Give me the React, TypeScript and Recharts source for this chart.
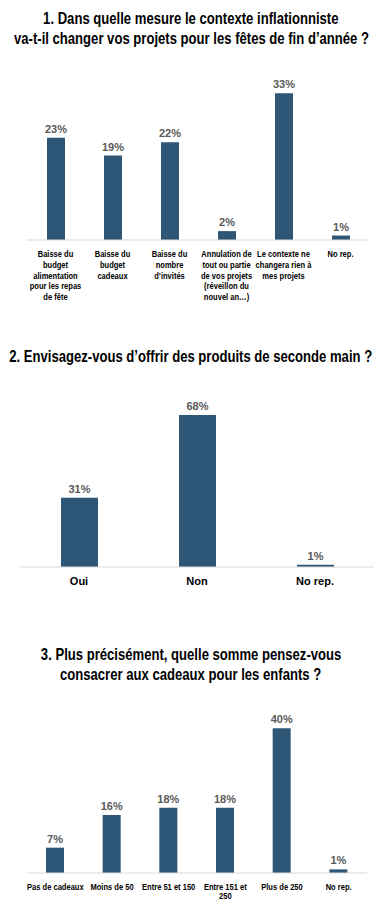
import React from 'react'
import { BarChart, Bar, XAxis, YAxis, LabelList } from 'recharts'

const q1Labels = [
    'Baisse du\nbudget\nalimentation\npour les repas\nde fête',
    'Baisse du\nbudget\ncadeaux',
    'Baisse du\nnombre\nd’invités',
    'Annulation de\ntout ou partie\nde vos projets\n(réveillon du\nnouvel an…)',
    'Le contexte ne\nchangera rien à\nmes projets',
    'No rep.',
]
const q1Values = [23, 19, 22, 2, 33, 1]

const q2Labels = ['Oui', 'Non', 'No rep.']
const q2Values = [31, 68, 1]

const q3Labels = ['Pas de cadeaux', 'Moins de 50', 'Entre 51 et 150', 'Entre 151 et\n250', 'Plus de 250', 'No rep.']
const q3Values = [7, 16, 18, 18, 40, 1]

const BAR = '#2e5676'
const NARROW = '"Liberation Sans Narrow", "Liberation Sans", Arial, sans-serif'

function MultiTick({ x, y, payload, fontSize, lineHeight, squeeze }: any) {
    const lines = String(payload.value).split('\n')
    return (
        <g transform={`translate(${x},${y}) scale(${squeeze},1)`}>
            <text x={0} y={0} textAnchor="middle" fill="#000" fontFamily={NARROW} fontWeight="bold" fontSize={fontSize}>
                {lines.map((l, i) => (
                    <tspan key={i} x={0} dy={i === 0 ? 0 : lineHeight}>{l}</tspan>
                ))}
            </text>
        </g>
    )
}

function Title({ top, lines, scale }: { top: number; lines: string[]; scale: number }) {
    return (
        <div style={{ position: 'absolute', left: 0, top, width: 382, fontFamily: NARROW, fontWeight: 'bold', fontSize: 17, lineHeight: '20px', color: '#000' }}>
            {lines.map((l) => (
                <div key={l} style={{ display: 'flex', justifyContent: 'center', whiteSpace: 'nowrap' }}>
                    <span style={{ flex: 'none', transform: `scaleX(${scale})`, transformOrigin: 'center' }}>{l}</span>
                </div>
            ))}
        </div>
    )
}

interface ChartProps {
    labels: string[]
    values: number[]
    top: number
    height: number
    margin: { top: number; left: number; right: number }
    axisHeight: number
    max: number
    barSize: number
    tickSize: number
    tickLine: number
    tickDy: number
    squeeze: number
}

function Chart({ labels, values, top, height, margin, axisHeight, max, barSize, tickSize, tickLine, tickDy, squeeze }: ChartProps) {
    const data = labels.map((name, i) => ({ name, value: values[i] }))
    return (
        <div style={{ position: 'absolute', left: 0, top }}>
            <BarChart width={382} height={height} data={data} margin={{ ...margin, bottom: 0 }} barCategoryGap={0}>
                <XAxis
                    dataKey="name"
                    interval={0}
                    height={axisHeight}
                    tickLine={false}
                    axisLine={{ stroke: '#d9d9d9' }}
                    tick={(p: any) => <MultiTick {...p} y={p.y + tickDy} fontSize={tickSize} lineHeight={tickLine} squeeze={squeeze} />}
                />
                <YAxis hide domain={[0, max]} />
                <Bar dataKey="value" fill={BAR} barSize={barSize} isAnimationActive={false}>
                    <LabelList
                        dataKey="value"
                        position="top"
                        offset={5}
                        formatter={(v: any) => `${v}%`}
                        style={{ fill: '#595959', fontFamily: NARROW, fontWeight: 'bold', fontSize: 11 }}
                    />
                </Bar>
            </BarChart>
        </div>
    )
}

export default function App() {
    return (
        <div style={{ position: 'absolute', left: 0, top: 0, width: 382, height: 912, background: '#fff', overflow: 'hidden' }}>
            <Title top={9} scale={0.77} lines={['1. Dans quelle mesure le contexte inflationniste', 'va-t-il changer vos projets pour les fêtes de fin d’année ?']} />
            <Chart
                labels={q1Labels}
                values={q1Values}
                top={60}
                height={260}
                margin={{ top: 20, left: 27, right: 13 }}
                axisHeight={80}
                max={36}
                barSize={18}
                tickSize={9}
                tickLine={10.8}
                tickDy={9}
                squeeze={0.84}
            />

            <Title top={347} scale={0.77} lines={['2. Envisagez-vous d’offrir des produits de seconde main ?']} />
            <Chart
                labels={q2Labels}
                values={q2Values}
                top={380}
                height={230}
                margin={{ top: 26, left: 20, right: 8 }}
                axisHeight={43}
                max={72}
                barSize={37}
                tickSize={11}
                tickLine={12}
                tickDy={10}
                squeeze={1}
            />

            <Title top={645} scale={0.77} lines={['3. Plus précisément, quelle somme pensez-vous', 'consacrer aux cadeaux pour les enfants ?']} />
            <Chart
                labels={q3Labels}
                values={q3Values}
                top={700}
                height={212}
                margin={{ top: 21, left: 27, right: 15 }}
                axisHeight={39}
                max={42}
                barSize={18}
                tickSize={9}
                tickLine={9.5}
                tickDy={9}
                squeeze={0.84}
            />
        </div>
    )
}
